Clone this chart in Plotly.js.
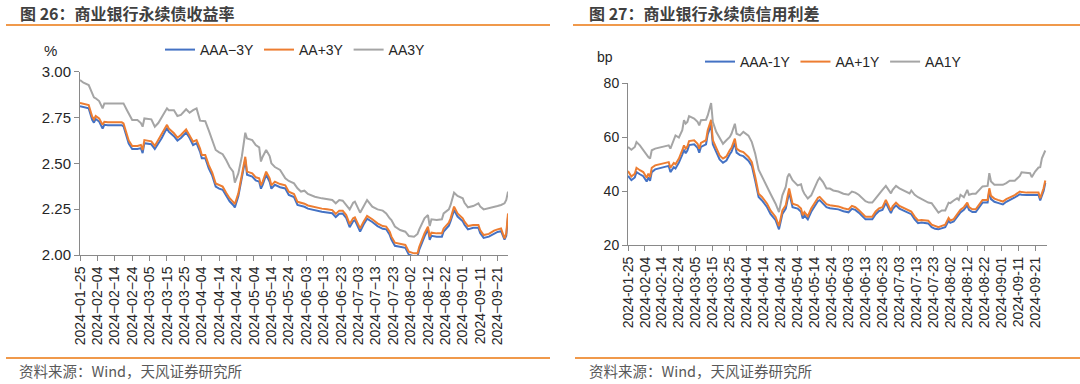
<!DOCTYPE html>
<html>
<head>
<meta charset="utf-8">
<script src="https://cdn.plot.ly/plotly-3.0.1.min.js"></script>
<style>
html,body{margin:0;padding:0;background:#fff;}
#chart{width:1080px;height:384px;}
</style>
</head>
<body>
<div id="chart"></div>
<script>
// ---------------- Left chart: 商业银行永续债收益率 (%) ----------------
const datesL = ["2024-01-25","2024-01-27","2024-01-30","2024-02-01","2024-02-02","2024-02-03","2024-02-05","2024-02-07","2024-02-08","2024-02-10",
"2024-02-18","2024-02-19","2024-02-21","2024-02-22","2024-02-24","2024-02-27","2024-02-29","2024-03-01","2024-03-02","2024-03-06",
"2024-03-08","2024-03-10","2024-03-12","2024-03-15","2024-03-16","2024-03-19","2024-03-21","2024-03-23","2024-03-26","2024-03-28",
"2024-03-30","2024-04-01","2024-04-03","2024-04-04","2024-04-06","2024-04-08","2024-04-10","2024-04-12","2024-04-14","2024-04-16",
"2024-04-18","2024-04-20","2024-04-22","2024-04-23","2024-04-25","2024-04-27","2024-04-29","2024-04-30","2024-05-03","2024-05-05",
"2024-05-07","2024-05-08","2024-05-09","2024-05-11","2024-05-13","2024-05-14","2024-05-16","2024-05-19","2024-05-22","2024-05-24",
"2024-05-27","2024-05-29","2024-05-31","2024-06-02","2024-06-04","2024-06-08","2024-06-12","2024-06-15","2024-06-18","2024-06-20",
"2024-06-22","2024-06-24","2024-06-26","2024-06-28","2024-06-30","2024-07-01","2024-07-04","2024-07-06","2024-07-08","2024-07-11",
"2024-07-14","2024-07-17","2024-07-19","2024-07-21","2024-07-22","2024-07-24","2024-07-27","2024-07-30","2024-08-01","2024-08-04",
"2024-08-06","2024-08-07","2024-08-10","2024-08-12","2024-08-13","2024-08-14","2024-08-17","2024-08-20","2024-08-21","2024-08-24",
"2024-08-25","2024-08-27","2024-08-29","2024-09-01","2024-09-02","2024-09-04","2024-09-07","2024-09-10","2024-09-11","2024-09-13",
"2024-09-16","2024-09-19","2024-09-21","2024-09-23","2024-09-25","2024-09-26","2024-09-27"];

const aaa3Y = [2.812,2.808,2.80,2.738,2.722,2.742,2.728,2.69,2.71,2.708,
2.708,2.702,2.638,2.608,2.578,2.578,2.583,2.556,2.61,2.604,
2.578,2.61,2.638,2.694,2.673,2.648,2.624,2.638,2.668,2.638,
2.60,2.61,2.563,2.528,2.528,2.473,2.433,2.373,2.362,2.356,
2.323,2.293,2.273,2.26,2.32,2.41,2.52,2.438,2.428,2.407,
2.40,2.362,2.383,2.438,2.40,2.362,2.383,2.37,2.363,2.328,
2.316,2.273,2.268,2.263,2.253,2.243,2.236,2.232,2.228,2.207,
2.225,2.226,2.202,2.152,2.184,2.19,2.128,2.166,2.198,2.18,
2.158,2.143,2.14,2.11,2.084,2.05,2.044,2.039,2.002,1.993,
1.992,2.03,2.10,2.14,2.083,2.105,2.10,2.10,2.128,2.16,
2.185,2.245,2.21,2.184,2.165,2.14,2.148,2.148,2.12,2.093,
2.10,2.118,2.126,2.13,2.084,2.105,2.208];

const aaPlus3Y = [2.83,2.825,2.818,2.755,2.74,2.758,2.745,2.71,2.727,2.724,
2.724,2.718,2.655,2.625,2.595,2.595,2.60,2.573,2.627,2.62,
2.595,2.627,2.655,2.71,2.69,2.664,2.64,2.655,2.685,2.655,
2.618,2.627,2.58,2.545,2.545,2.49,2.45,2.39,2.38,2.373,
2.34,2.31,2.29,2.278,2.336,2.427,2.536,2.455,2.445,2.424,
2.418,2.38,2.40,2.455,2.418,2.38,2.40,2.387,2.38,2.345,
2.333,2.29,2.285,2.28,2.27,2.26,2.253,2.249,2.245,2.224,
2.242,2.242,2.218,2.169,2.20,2.205,2.145,2.182,2.213,2.195,
2.173,2.158,2.155,2.127,2.10,2.067,2.06,2.055,2.018,2.009,
2.009,2.045,2.118,2.155,2.10,2.122,2.118,2.118,2.145,2.176,
2.20,2.264,2.227,2.20,2.182,2.158,2.164,2.164,2.136,2.109,
2.115,2.133,2.14,2.145,2.091,2.118,2.227];

const aa3Y = [2.955,2.94,2.927,2.88,2.86,2.855,2.84,2.80,2.827,2.827,
2.83,2.827,2.79,2.77,2.736,2.736,2.72,2.70,2.745,2.74,
2.70,2.72,2.755,2.80,2.79,2.79,2.758,2.764,2.795,2.776,
2.79,2.80,2.733,2.733,2.73,2.68,2.627,2.573,2.56,2.55,
2.518,2.48,2.455,2.395,2.445,2.536,2.667,2.636,2.627,2.60,
2.587,2.51,2.536,2.573,2.54,2.50,2.48,2.464,2.418,2.404,
2.391,2.364,2.346,2.351,2.333,2.318,2.309,2.304,2.30,2.282,
2.30,2.296,2.273,2.249,2.285,2.291,2.231,2.267,2.30,2.264,
2.249,2.242,2.227,2.20,2.191,2.155,2.136,2.127,2.104,2.10,
2.115,2.14,2.20,2.218,2.158,2.195,2.191,2.195,2.227,2.249,
2.273,2.34,2.322,2.309,2.285,2.26,2.267,2.282,2.265,2.249,
2.255,2.26,2.267,2.273,2.282,2.30,2.346];

const namesL = ["AAA\u22123Y","AA+3Y","AA3Y"];
const yTicksL = [2.00,2.25,2.50,2.75,3.00];

// ---------------- Right chart: 商业银行永续债信用利差 (bp) ----------------
const datesR = ["2024-01-25","2024-01-27","2024-01-29","2024-01-30","2024-02-01","2024-02-03","2024-02-05","2024-02-06","2024-02-07","2024-02-08",
"2024-02-10","2024-02-14","2024-02-18","2024-02-19","2024-02-21","2024-02-22","2024-02-24","2024-02-26","2024-02-27","2024-02-28",
"2024-02-29","2024-03-01","2024-03-04","2024-03-06","2024-03-07","2024-03-08","2024-03-11","2024-03-12","2024-03-14","2024-03-15",
"2024-03-17","2024-03-19","2024-03-21","2024-03-23","2024-03-25","2024-03-26","2024-03-28","2024-03-29","2024-03-31","2024-04-02",
"2024-04-05","2024-04-07","2024-04-09","2024-04-11","2024-04-13","2024-04-16","2024-04-18","2024-04-21","2024-04-23","2024-04-25",
"2024-04-27","2024-04-28","2024-04-29","2024-05-01","2024-05-04","2024-05-06","2024-05-07","2024-05-08","2024-05-10","2024-05-12",
"2024-05-14","2024-05-16","2024-05-17","2024-05-19","2024-05-21","2024-05-23","2024-05-25","2024-05-28","2024-05-31","2024-06-03",
"2024-06-05","2024-06-07","2024-06-09","2024-06-11","2024-06-13","2024-06-15","2024-06-17","2024-06-19","2024-06-21","2024-06-23",
"2024-06-25","2024-06-27","2024-06-28","2024-06-29","2024-07-01","2024-07-03","2024-07-06","2024-07-09","2024-07-10","2024-07-12",
"2024-07-14","2024-07-16","2024-07-18","2024-07-20","2024-07-22","2024-07-24","2024-07-26","2024-07-28","2024-07-30","2024-08-01",
"2024-08-02","2024-08-04","2024-08-06","2024-08-07","2024-08-08","2024-08-10","2024-08-12","2024-08-13","2024-08-15","2024-08-17",
"2024-08-19","2024-08-21","2024-08-24","2024-08-25","2024-08-26","2024-08-28","2024-08-30","2024-09-02","2024-09-04","2024-09-06",
"2024-09-09","2024-09-12","2024-09-13","2024-09-16","2024-09-18","2024-09-19","2024-09-21","2024-09-23","2024-09-24","2024-09-25",
"2024-09-26","2024-09-27"];

const aaa1Y = [45.6,44.0,45.0,47.0,46.2,45.5,43.5,45.0,43.8,47.0,
48.0,48.7,49.3,47.0,48.8,48.3,50.5,53.5,55.3,54.0,
55.0,57.0,57.3,56.0,54.2,56.3,57.3,61.0,64.5,57.3,
54.2,51.7,50.5,51.3,53.6,54.5,57.8,54.2,53.3,52.9,
51.2,49.3,43.8,37.8,36.5,34.0,31.5,29.2,25.8,31.5,
33.5,36.8,39.5,34.0,33.5,32.3,29.8,31.0,29.5,32.3,
34.2,36.3,36.6,35.3,34.0,33.6,33.4,33.2,32.5,32.1,
33.4,33.0,32.0,30.8,29.5,29.5,29.5,31.4,32.6,33.0,
35.6,33.0,31.8,33.3,34.7,33.5,32.6,31.8,31.4,29.5,
28.1,28.3,28.1,28.0,26.6,26.0,25.8,26.2,26.6,29.0,
28.2,28.7,30.6,31.3,32.1,33.0,34.7,33.0,32.2,32.2,
33.8,35.7,35.7,40.0,37.0,36.0,35.6,35.0,36.0,36.6,
37.6,38.8,38.6,38.5,38.5,38.5,38.5,38.5,36.5,38.0,
40.0,43.0];

const aaPlus1Y = [47.4,45.4,46.4,48.6,47.7,47.0,44.9,46.4,45.2,48.6,
49.5,50.1,50.7,48.6,50.4,49.9,52.0,55.1,56.9,55.7,
56.5,58.5,58.8,57.5,55.7,57.8,58.8,62.5,66.4,58.8,
55.7,53.2,52.0,52.8,55.1,56.0,59.4,55.7,54.8,54.4,
52.6,50.7,45.2,39.0,37.8,35.3,32.8,30.4,27.0,32.8,
34.7,38.0,40.9,35.3,34.7,33.5,31.0,32.2,30.6,33.5,
35.3,37.5,37.8,36.5,35.1,34.7,34.5,34.3,33.6,33.2,
34.5,34.0,33.0,31.8,30.5,30.5,30.5,32.4,33.6,34.0,
36.7,34.0,32.8,34.3,35.7,34.5,33.6,32.8,32.4,30.5,
29.1,29.3,29.1,29.0,27.5,27.0,26.6,27.1,27.5,30.0,
29.1,29.6,31.6,32.3,33.1,34.0,35.7,34.0,33.2,33.2,
34.8,36.7,36.7,41.0,38.2,37.2,36.7,36.1,37.0,37.5,
38.5,39.8,39.6,39.4,39.4,39.4,39.4,39.4,37.3,39.0,
41.0,43.9];

const aa1Y = [56.3,55.3,56.3,58.1,56.9,55.1,53.2,52.6,52.0,55.1,
55.7,56.3,56.9,55.7,58.8,60.6,59.8,62.5,66.2,65.0,
65.6,67.7,66.8,65.6,64.3,66.2,66.4,68.0,72.6,65.6,
61.9,59.4,57.5,58.8,60.0,61.2,64.9,61.2,60.6,61.9,
60.5,58.1,53.8,47.9,45.2,41.5,39.0,35.3,32.2,38.4,
41.5,45.2,46.4,44.0,42.1,42.5,40.2,39.0,37.2,38.4,
41.5,44.0,44.9,43.3,40.9,40.9,40.2,39.8,39.0,38.6,
39.8,39.4,38.6,37.5,36.2,35.7,35.7,37.3,39.0,40.4,
41.9,39.8,39.1,40.4,41.9,41.0,40.2,39.1,40.2,38.6,
37.7,37.0,36.5,35.7,35.5,33.5,32.0,32.8,32.8,35.7,
35.5,36.5,37.3,36.7,38.6,37.7,40.4,38.6,39.0,39.0,
40.4,41.7,41.9,46.6,43.5,42.3,42.3,42.3,42.9,43.8,
43.8,45.6,46.9,46.6,46.6,45.1,47.2,48.7,48.8,52.1,
53.5,55.0];

const namesR = ["AAA-1Y","AA+1Y","AA1Y"];
const yTicksR = [20,40,60,80];

// ---------------- styling ----------------
const W = 1080, H = 384;
const px = v => v / W;          // x pixel -> paper
const py = v => 1 - v / H;      // y pixel -> paper
const colors = ["#4472C4", "#ED7D31", "#A5A5A5"];
const ORANGE = "#F0994B";
const fontL = "Liberation Sans, Arial, sans-serif";
const fontR = "Liberation Sans, Arial, sans-serif";
const fontCJK = "Noto Sans CJK SC, sans-serif";
const TEN_DAYS = 10 * 24 * 3600 * 1000;

const seriesL = [aaa3Y, aaPlus3Y, aa3Y];
const seriesR = [aaa1Y, aaPlus1Y, aa1Y];

const traces = [];
seriesL.forEach((s, i) => traces.push({
  type: "scatter", mode: "lines", x: datesL, y: s, name: namesL[i],
  xaxis: "x", yaxis: "y", legend: "legend",
  line: {color: colors[i], width: 2}
}));
seriesR.forEach((s, i) => traces.push({
  type: "scatter", mode: "lines", x: datesR, y: s, name: namesR[i],
  xaxis: "x2", yaxis: "y2", legend: "legend2",
  line: {color: colors[i], width: 2}
}));

const axisCommon = {
  showgrid: false, zeroline: false, showline: true,
  linecolor: "#898989", linewidth: 1,
  ticks: "outside", ticklen: 5, tickcolor: "#898989", tickwidth: 1,
  fixedrange: true
};

const layout = {
  width: W, height: H,
  margin: {l: 0, r: 0, t: 0, b: 0},
  paper_bgcolor: "#ffffff", plot_bgcolor: "#ffffff",
  showlegend: true,
  xaxis: Object.assign({}, axisCommon, {
    domain: [px(80), px(508)], anchor: "y", type: "date",
    range: ["2024-01-25", "2024-09-27"],
    tick0: "2024-01-25", dtick: TEN_DAYS, tickformat: "%Y\u2212%m\u2212%d",
    tickangle: -90, tickfont: {family: fontL, size: 14, color: "#262626"}
  }),
  yaxis: Object.assign({}, axisCommon, {
    domain: [py(255), py(71.7)], anchor: "x",
    range: [2.0, 3.0], tickvals: yTicksL, tickformat: ".2f",
    tickfont: {family: fontL, size: 15, color: "#262626"}
  }),
  xaxis2: Object.assign({}, axisCommon, {
    domain: [px(628), px(1047)], anchor: "y2", type: "date",
    range: ["2024-01-25", "2024-09-28"],
    tick0: "2024-01-25", dtick: TEN_DAYS, tickformat: "%Y-%m-%d",
    tickangle: -90, tickfont: {family: fontR, size: 14, color: "#262626"}
  }),
  yaxis2: Object.assign({}, axisCommon, {
    domain: [py(245), py(83)], anchor: "x2",
    range: [20, 80], tickvals: yTicksR,
    tickfont: {family: fontR, size: 14, color: "#262626"}
  }),
  legend: {
    orientation: "h", x: px(160), y: py(50), xanchor: "left", yanchor: "middle",
    font: {family: fontL, size: 14, color: "#262626"},
    bgcolor: "rgba(0,0,0,0)", itemwidth: 30, tracegroupgap: 0
  },
  legend2: {
    orientation: "h", x: px(700), y: py(62), xanchor: "left", yanchor: "middle",
    font: {family: fontR, size: 14, color: "#262626"},
    bgcolor: "rgba(0,0,0,0)", itemwidth: 30, tracegroupgap: 0
  },
  shapes: [
    {type: "line", xref: "paper", yref: "paper", x0: px(6), x1: px(550), y0: py(25), y1: py(25), line: {color: ORANGE, width: 2}},
    {type: "line", xref: "paper", yref: "paper", x0: px(573), x1: px(1080), y0: py(25), y1: py(25), line: {color: ORANGE, width: 2}},
    {type: "line", xref: "paper", yref: "paper", x0: px(6), x1: px(550), y0: py(358), y1: py(358), line: {color: ORANGE, width: 2}},
    {type: "line", xref: "paper", yref: "paper", x0: px(575), x1: px(1080), y0: py(358), y1: py(358), line: {color: ORANGE, width: 2}}
  ],
  annotations: [
    {text: "图 26：商业银行永续债收益率", xref: "paper", yref: "paper", x: px(18), y: py(13), xanchor: "left", yanchor: "middle", showarrow: false,
     font: {family: fontCJK, size: 16, color: "#404040", weight: "bold"}},
    {text: "图 27：商业银行永续债信用利差", xref: "paper", yref: "paper", x: px(587), y: py(13), xanchor: "left", yanchor: "middle", showarrow: false,
     font: {family: fontCJK, size: 16, color: "#404040", weight: "bold"}},
    {text: "%", xref: "paper", yref: "paper", x: px(50), y: py(50), xanchor: "center", yanchor: "middle", showarrow: false,
     font: {family: fontL, size: 15, color: "#262626"}},
    {text: "bp", xref: "paper", yref: "paper", x: px(605), y: py(57), xanchor: "center", yanchor: "middle", showarrow: false,
     font: {family: fontR, size: 14, color: "#262626"}},
    {text: "资料来源：Wind，天风证券研究所", xref: "paper", yref: "paper", x: px(17), y: py(370), xanchor: "left", yanchor: "middle", showarrow: false,
     font: {family: fontCJK, size: 14.5, color: "#595959"}},
    {text: "资料来源：Wind，天风证券研究所", xref: "paper", yref: "paper", x: px(587), y: py(370), xanchor: "left", yanchor: "middle", showarrow: false,
     font: {family: fontCJK, size: 14.5, color: "#595959"}}
  ]
};

Plotly.newPlot("chart", traces, layout, {staticPlot: true, displayModeBar: false});
</script>
</body>
</html>
